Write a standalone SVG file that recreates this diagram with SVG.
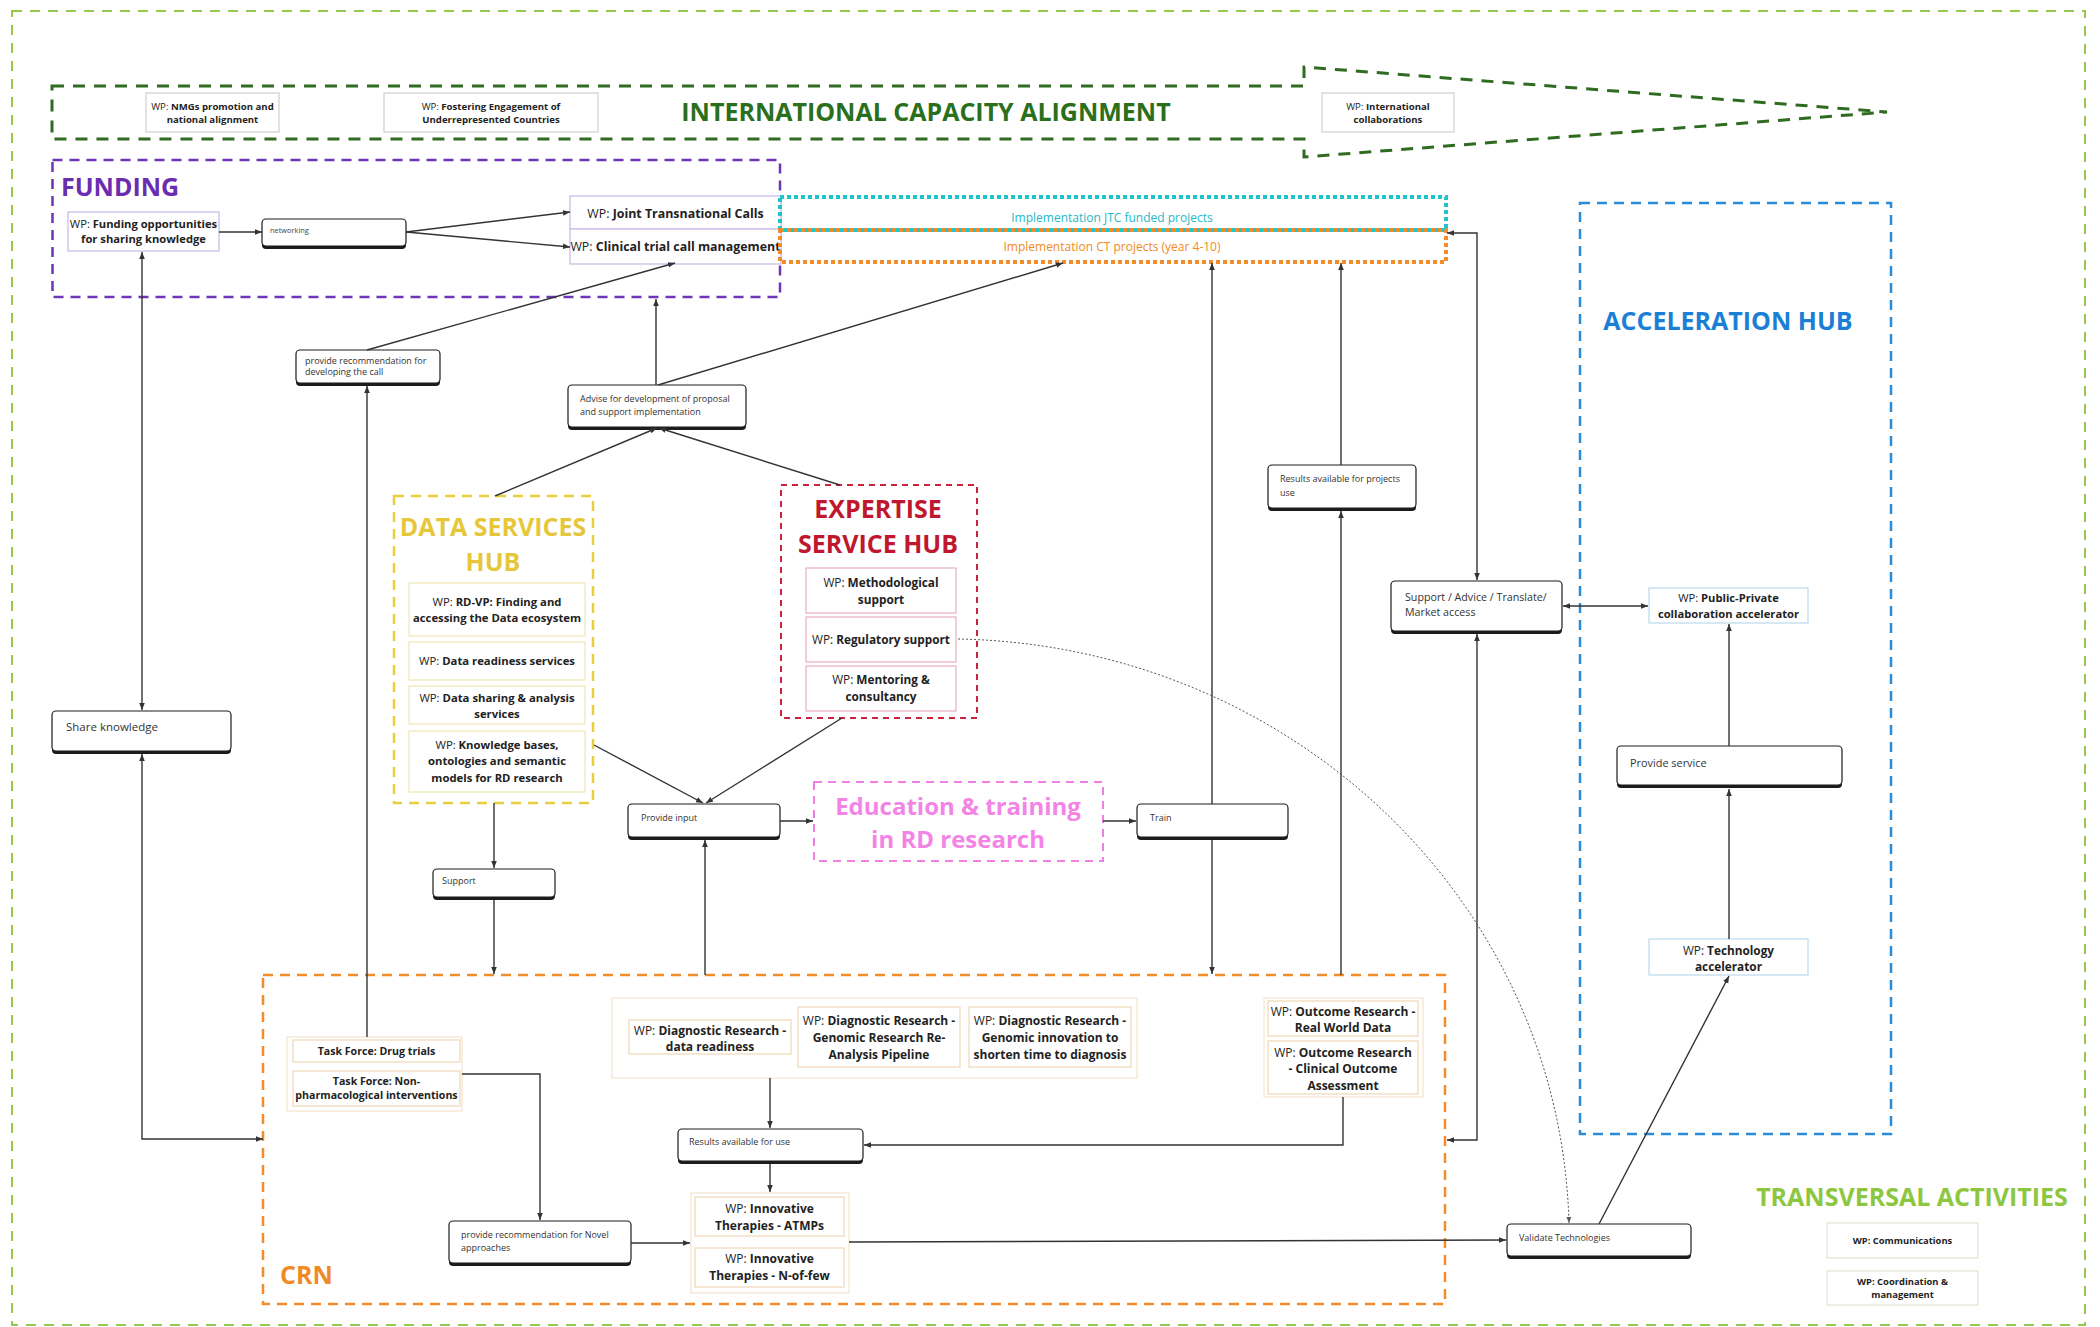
<svg xmlns="http://www.w3.org/2000/svg" width="2100" height="1327" viewBox="0 0 2100 1327">
<style>
  text { font-family: "Open Sans", "Liberation Sans", sans-serif; fill: #222; }
  .b { font-weight: 700; }
  .c { text-anchor: middle; }
  .title { font-weight: 700; font-size: 25px; }
  .sh { fill: #1c1c1c; }
  .ab { fill: #fff; stroke: #1c1c1c; stroke-width: 1.2; }
  .at { font-size: 9px; fill: #333; }
  .wpg { fill: #fff; stroke: #cfcfcf; stroke-width: 1.2; }
  .wpp { fill: #fff; stroke: #c9b8e6; stroke-width: 1.2; }
  .wpy { fill: #fff; stroke: #f1e7b4; stroke-width: 1.2; }
  .wpr { fill: #fff; stroke: #e9aebd; stroke-width: 1.2; }
  .wpo { fill: #fff; stroke: #f1d8b6; stroke-width: 1.2; }
  .wpb { fill: #fff; stroke: #b9d9ec; stroke-width: 1.2; }
  .wpt { fill: #fff; stroke: #dde8d2; stroke-width: 1.2; }
  .con { fill: none; stroke: #f3e4cf; stroke-width: 1.2; }
  .ln { fill: none; stroke: #333; stroke-width: 1.4; }
  .dot { fill: none; stroke: #555; stroke-width: 1; stroke-dasharray: 2 2; }
</style>
<defs>
  <marker id="ah" viewBox="0 0 10 10" refX="10" refY="5" markerWidth="7" markerHeight="7" markerUnits="userSpaceOnUse" orient="auto-start-reverse">
    <path d="M0,1 L10,5 L0,9 z" fill="#333"/>
  </marker>
  <marker id="ahs" viewBox="0 0 10 10" refX="10" refY="5" markerWidth="6" markerHeight="6" markerUnits="userSpaceOnUse" orient="auto">
    <path d="M0,1 L10,5 L0,9 z" fill="#555"/>
  </marker>
</defs>

<rect width="2100" height="1327" fill="#fff"/>

<!-- outer frame -->
<rect x="12" y="11" width="2073" height="1314" fill="none" stroke="#96c84f" stroke-width="2" stroke-dasharray="10 8"/>

<!-- international capacity alignment band -->
<g id="ica">
  <path d="M52,86 H1304 V67 L1887,112 L1304,157 V139 H52 Z" fill="none" stroke="#2f6b20" stroke-width="3" stroke-dasharray="12 9"/>
  <text class="title c" x="926" y="121" style="fill:#2a6f1c">INTERNATIONAL CAPACITY ALIGNMENT</text>
</g>
<g id="wp-nmgs">
  <rect class="wpg" x="146" y="93" width="133" height="39"/>
  <text class="c" x="212.5" y="110" font-size="9.6"><tspan>WP: </tspan><tspan class="b">NMGs promotion and</tspan></text>
  <text class="c b" x="212.5" y="123" font-size="9.6">national alignment</text>
</g>
<g id="wp-fostering">
  <rect class="wpg" x="384" y="93" width="214" height="39"/>
  <text class="c" x="491" y="110" font-size="9.6"><tspan>WP: </tspan><tspan class="b">Fostering Engagement of</tspan></text>
  <text class="c b" x="491" y="123" font-size="9.6">Underrepresented Countries</text>
</g>
<g id="wp-intl">
  <rect class="wpg" x="1322" y="93" width="132" height="39"/>
  <text class="c" x="1388" y="110" font-size="9.6"><tspan>WP: </tspan><tspan class="b">International</tspan></text>
  <text class="c b" x="1388" y="123" font-size="9.6">collaborations</text>
</g>

<!-- funding -->
<g id="funding">
  <rect x="52.5" y="160" width="727.5" height="137" fill="none" stroke="#6f35b8" stroke-width="2.5" stroke-dasharray="10 7"/>
  <text class="title" x="61" y="196" style="fill:#6a2db0">FUNDING</text>
</g>
<g id="wp-funding-opps">
  <rect class="wpp" x="68" y="212" width="151" height="39"/>
  <text class="c" x="143.5" y="228" font-size="11.2"><tspan>WP: </tspan><tspan class="b">Funding opportunities</tspan></text>
  <text class="c b" x="143.5" y="243" font-size="11.2">for sharing knowledge</text>
</g>
<g id="networking">
  <rect class="sh" x="262" y="222" width="144" height="27" rx="4"/>
  <rect class="ab" x="262" y="219" width="144" height="27" rx="4"/>
  <text x="270" y="233" font-size="7.4" style="fill:#444">networking</text>
</g>
<g id="wp-jtc">
  <rect class="wpp" x="570" y="196" width="211" height="33"/>
  <text class="c" x="675.5" y="218" font-size="12.4"><tspan>WP: </tspan><tspan class="b">Joint Transnational Calls</tspan></text>
</g>
<g id="wp-ct">
  <rect class="wpp" x="570" y="229" width="211" height="35"/>
  <text class="c" x="675.5" y="251" font-size="12.4"><tspan>WP: </tspan><tspan class="b">Clinical trial call management</tspan></text>
</g>

<!-- implementation boxes -->
<g id="impl-jtc">
  <rect x="780" y="197" width="666" height="33" fill="none" stroke="#22c4cc" stroke-width="4" stroke-dasharray="4 3"/>
  <text class="c" x="1112" y="222" font-size="12" style="fill:#25b9c9">Implementation JTC funded projects</text>
</g>
<g id="impl-ct">
  <rect x="780" y="230" width="666" height="32" fill="none" stroke="#f28c2a" stroke-width="4" stroke-dasharray="4 3"/>
  <text class="c" x="1112" y="251" font-size="12" style="fill:#ef8a25">Implementation CT projects (year 4-10)</text>
</g>

<!-- action boxes, upper area -->
<g id="rec-call">
  <rect class="sh" x="296" y="353" width="144" height="33" rx="4"/>
  <rect class="ab" x="296" y="350" width="144" height="33" rx="4"/>
  <text class="at" x="305" y="364" font-size="7.6">provide recommendation for</text>
  <text class="at" x="305" y="375" font-size="7.6">developing the call</text>
</g>
<g id="advise">
  <rect class="sh" x="568" y="388" width="178" height="42" rx="4"/>
  <rect class="ab" x="568" y="385" width="178" height="42" rx="4"/>
  <text class="at" x="580" y="402" font-size="9">Advise for development of proposal</text>
  <text class="at" x="580" y="415" font-size="9">and support implementation</text>
</g>
<g id="share-knowledge">
  <rect class="sh" x="52" y="714" width="179" height="40" rx="4"/>
  <rect class="ab" x="52" y="711" width="179" height="40" rx="4"/>
  <text x="66" y="731" font-size="11.5" style="fill:#333">Share knowledge</text>
</g>
<g id="results-projects">
  <rect class="sh" x="1268" y="468" width="148" height="43" rx="4"/>
  <rect class="ab" x="1268" y="465" width="148" height="43" rx="4"/>
  <text class="at" x="1280" y="482" font-size="9.2">Results available for projects</text>
  <text class="at" x="1280" y="496" font-size="9.2">use</text>
</g>
<g id="support-advice">
  <rect class="sh" x="1391" y="584" width="171" height="50" rx="4"/>
  <rect class="ab" x="1391" y="581" width="171" height="50" rx="4"/>
  <text x="1405" y="601" font-size="10.7" style="fill:#333">Support / Advice / Translate/</text>
  <text x="1405" y="616" font-size="10.7" style="fill:#333">Market access</text>
</g>

<!-- data services hub -->
<g id="data-services-hub">
  <rect x="394" y="496" width="199" height="307" fill="none" stroke="#e9cf3e" stroke-width="2.5" stroke-dasharray="10 7"/>
  <text class="title c" x="493" y="536" style="fill:#e7c73a">DATA SERVICES</text>
  <text class="title c" x="493" y="571" style="fill:#e7c73a">HUB</text>
</g>
<g id="wp-rdvp">
  <rect class="wpy" x="409" y="583" width="176" height="53"/>
  <text class="c" x="497" y="606" font-size="11.3"><tspan>WP: </tspan><tspan class="b">RD-VP: Finding and</tspan></text>
  <text class="c b" x="497" y="622" font-size="11.3">accessing the Data ecosystem</text>
</g>
<g id="wp-data-readiness">
  <rect class="wpy" x="409" y="642" width="176" height="38"/>
  <text class="c" x="497" y="665" font-size="11.3"><tspan>WP: </tspan><tspan class="b">Data readiness services</tspan></text>
</g>
<g id="wp-data-sharing">
  <rect class="wpy" x="409" y="686" width="176" height="38"/>
  <text class="c" x="497" y="702" font-size="11.3"><tspan>WP: </tspan><tspan class="b">Data sharing &amp; analysis</tspan></text>
  <text class="c b" x="497" y="718" font-size="11.3">services</text>
</g>
<g id="wp-knowledge-bases">
  <rect class="wpy" x="409" y="731" width="176" height="61"/>
  <text class="c" x="497" y="749" font-size="11.3"><tspan>WP: </tspan><tspan class="b">Knowledge bases,</tspan></text>
  <text class="c b" x="497" y="765" font-size="11.3">ontologies and semantic</text>
  <text class="c b" x="497" y="782" font-size="11.3">models for RD research</text>
</g>

<!-- expertise service hub -->
<g id="expertise-hub">
  <rect x="781" y="485" width="196" height="233" fill="none" stroke="#c8243e" stroke-width="2" stroke-dasharray="6 5"/>
  <text class="title c" x="878" y="518" style="fill:#c0172f">EXPERTISE</text>
  <text class="title c" x="878" y="553" style="fill:#c0172f">SERVICE HUB</text>
</g>
<g id="wp-methodological">
  <rect class="wpr" x="806" y="568" width="150" height="45"/>
  <text class="c" x="881" y="587" font-size="11.8"><tspan>WP: </tspan><tspan class="b">Methodological</tspan></text>
  <text class="c b" x="881" y="604" font-size="11.8">support</text>
</g>
<g id="wp-regulatory">
  <rect class="wpr" x="806" y="617" width="150" height="45"/>
  <text class="c" x="881" y="644" font-size="11.8"><tspan>WP: </tspan><tspan class="b">Regulatory support</tspan></text>
</g>
<g id="wp-mentoring">
  <rect class="wpr" x="806" y="666" width="150" height="45"/>
  <text class="c" x="881" y="684" font-size="11.8"><tspan>WP: </tspan><tspan class="b">Mentoring &amp;</tspan></text>
  <text class="c b" x="881" y="701" font-size="11.8">consultancy</text>
</g>

<!-- middle row -->
<g id="support">
  <rect class="sh" x="433" y="872" width="122" height="28" rx="4"/>
  <rect class="ab" x="433" y="869" width="122" height="28" rx="4"/>
  <text class="at" x="442" y="884" font-size="8">Support</text>
</g>
<g id="provide-input">
  <rect class="sh" x="628" y="807" width="152" height="33" rx="4"/>
  <rect class="ab" x="628" y="804" width="152" height="33" rx="4"/>
  <text class="at" x="641" y="821" font-size="9.6">Provide input</text>
</g>
<g id="education">
  <rect x="814" y="782" width="289" height="79" fill="none" stroke="#f27ee3" stroke-width="2" stroke-dasharray="8 6"/>
  <text class="c b" x="958" y="815" font-size="24" style="fill:#f384e6">Education &amp; training</text>
  <text class="c b" x="958" y="848" font-size="24" style="fill:#f384e6">in RD research</text>
</g>
<g id="train">
  <rect class="sh" x="1137" y="807" width="151" height="33" rx="4"/>
  <rect class="ab" x="1137" y="804" width="151" height="33" rx="4"/>
  <text class="at" x="1150" y="821" font-size="9.2">Train</text>
</g>

<!-- acceleration hub -->
<g id="acceleration-hub">
  <rect x="1580" y="203" width="311" height="931" fill="none" stroke="#2a8bd8" stroke-width="2.5" stroke-dasharray="10 7"/>
  <text class="title c" x="1728" y="330" style="fill:#1b7fd6">ACCELERATION HUB</text>
</g>
<g id="wp-ppp">
  <rect class="wpb" x="1649" y="588" width="159" height="35"/>
  <text class="c" x="1728.5" y="602" font-size="11.2"><tspan>WP: </tspan><tspan class="b">Public-Private</tspan></text>
  <text class="c b" x="1728.5" y="618" font-size="11.2">collaboration accelerator</text>
</g>
<g id="provide-service">
  <rect class="sh" x="1617" y="749" width="225" height="39" rx="4"/>
  <rect class="ab" x="1617" y="746" width="225" height="39" rx="4"/>
  <text x="1630" y="767" font-size="10.9" style="fill:#333">Provide service</text>
</g>
<g id="wp-tech-acc">
  <rect class="wpb" x="1649" y="939" width="159" height="36"/>
  <text class="c" x="1728.5" y="955" font-size="11.8"><tspan>WP: </tspan><tspan class="b">Technology</tspan></text>
  <text class="c b" x="1728.5" y="971" font-size="11.8">accelerator</text>
</g>

<!-- clinical research network -->
<g id="crn">
  <rect x="263" y="975" width="1182" height="329" fill="none" stroke="#f28c2a" stroke-width="2.5" stroke-dasharray="10 7"/>
  <text class="title" x="280" y="1284" style="fill:#ef8a25">CRN</text>
</g>
<g id="task-forces">
  <rect class="con" x="287" y="1037" width="175" height="74"/>
  <rect class="wpo" x="293" y="1040" width="167" height="22"/>
  <text class="c b" x="376.5" y="1055" font-size="10.6">Task Force: Drug trials</text>
  <rect class="wpo" x="293" y="1071" width="167" height="35"/>
  <text class="c b" x="376.5" y="1085" font-size="10.6">Task Force: Non-</text>
  <text class="c b" x="376.5" y="1099" font-size="10.6">pharmacological interventions</text>
</g>
<g id="diagnostic">
  <rect class="con" x="612" y="998" width="525" height="80"/>
</g>
<g id="wp-diag-data">
  <rect class="wpo" x="629" y="1020" width="162" height="34"/>
  <text class="c" x="710" y="1035" font-size="12"><tspan>WP: </tspan><tspan class="b">Diagnostic Research -</tspan></text>
  <text class="c b" x="710" y="1051" font-size="12">data readiness</text>
</g>
<g id="wp-diag-genomic">
  <rect class="wpo" x="798" y="1007" width="162" height="60"/>
  <text class="c" x="879" y="1025" font-size="12"><tspan>WP: </tspan><tspan class="b">Diagnostic Research -</tspan></text>
  <text class="c b" x="879" y="1042" font-size="12">Genomic Research Re-</text>
  <text class="c b" x="879" y="1059" font-size="12">Analysis Pipeline</text>
</g>
<g id="wp-diag-innovation">
  <rect class="wpo" x="969" y="1007" width="162" height="60"/>
  <text class="c" x="1050" y="1025" font-size="12"><tspan>WP: </tspan><tspan class="b">Diagnostic Research -</tspan></text>
  <text class="c b" x="1050" y="1042" font-size="12">Genomic innovation to</text>
  <text class="c b" x="1050" y="1059" font-size="12">shorten time to diagnosis</text>
</g>
<g id="outcome">
  <rect class="con" x="1264" y="998" width="159" height="99"/>
  <rect class="wpo" x="1268" y="1001" width="150" height="35"/>
  <text class="c" x="1343" y="1016" font-size="12"><tspan>WP: </tspan><tspan class="b">Outcome Research -</tspan></text>
  <text class="c b" x="1343" y="1032" font-size="12">Real World Data</text>
  <rect class="wpo" x="1268" y="1041" width="150" height="53"/>
  <text class="c" x="1343" y="1057" font-size="12"><tspan>WP: </tspan><tspan class="b">Outcome Research</tspan></text>
  <text class="c b" x="1343" y="1073" font-size="12">- Clinical Outcome</text>
  <text class="c b" x="1343" y="1090" font-size="12">Assessment</text>
</g>
<g id="results-use">
  <rect class="sh" x="678" y="1132" width="185" height="32" rx="4"/>
  <rect class="ab" x="678" y="1129" width="185" height="32" rx="4"/>
  <text class="at" x="689" y="1145" font-size="8.8">Results available for use</text>
</g>
<g id="rec-novel">
  <rect class="sh" x="449" y="1224" width="182" height="42" rx="4"/>
  <rect class="ab" x="449" y="1221" width="182" height="42" rx="4"/>
  <text class="at" x="461" y="1238" font-size="9.1">provide recommendation for Novel</text>
  <text class="at" x="461" y="1251" font-size="9.1">approaches</text>
</g>
<g id="innovative">
  <rect class="con" x="691" y="1193" width="158" height="100"/>
  <rect class="wpo" x="695" y="1197" width="149" height="39"/>
  <text class="c" x="769.5" y="1213" font-size="12"><tspan>WP: </tspan><tspan class="b">Innovative</tspan></text>
  <text class="c b" x="769.5" y="1230" font-size="12">Therapies - ATMPs</text>
  <rect class="wpo" x="695" y="1248" width="149" height="39"/>
  <text class="c" x="769.5" y="1263" font-size="12"><tspan>WP: </tspan><tspan class="b">Innovative</tspan></text>
  <text class="c b" x="769.5" y="1280" font-size="12">Therapies - N-of-few</text>
</g>
<g id="validate">
  <rect class="sh" x="1507" y="1227" width="184" height="32" rx="4"/>
  <rect class="ab" x="1507" y="1224" width="184" height="32" rx="4"/>
  <text class="at" x="1519" y="1241" font-size="9.3">Validate Technologies</text>
</g>

<!-- transversal activities -->
<g id="transversal">
  <text class="title c" x="1912" y="1206" style="fill:#8dc63f">TRANSVERSAL ACTIVITIES</text>
</g>
<g id="wp-communications">
  <rect class="wpt" x="1827" y="1223" width="151" height="35"/>
  <text class="c b" x="1902.5" y="1244" font-size="9.4">WP: Communications</text>
</g>
<g id="wp-coordination">
  <rect class="wpt" x="1827" y="1271" width="151" height="34"/>
  <text class="c b" x="1902.5" y="1285" font-size="9.4">WP: Coordination &amp;</text>
  <text class="c b" x="1902.5" y="1298" font-size="9.4">management</text>
</g>

<!-- connectors -->
<g id="connectors">
  <path class="ln" d="M219,232 H262" marker-end="url(#ah)"/>
  <path class="ln" d="M406,232 L570,212" marker-end="url(#ah)"/>
  <path class="ln" d="M406,232 L570,247" marker-end="url(#ah)"/>
  <path class="ln" d="M142,252 V710" marker-start="url(#ah)" marker-end="url(#ah)"/>
  <path class="ln" d="M142,754 V1139 H263" marker-start="url(#ah)" marker-end="url(#ah)"/>
  <path class="ln" d="M367,350 L675,263" marker-end="url(#ah)"/>
  <path class="ln" d="M367,1037 V386" marker-end="url(#ah)"/>
  <path class="ln" d="M656,385 V299" marker-end="url(#ah)"/>
  <path class="ln" d="M658,385 L1063,263" marker-end="url(#ah)"/>
  <path class="ln" d="M495,496 L657,428" marker-end="url(#ah)"/>
  <path class="ln" d="M840,485 L659,428" marker-end="url(#ah)"/>
  <path class="ln" d="M494,803 V868" marker-end="url(#ah)"/>
  <path class="ln" d="M494,900 V974" marker-end="url(#ah)"/>
  <path class="ln" d="M594,745 L703,803" marker-end="url(#ah)"/>
  <path class="ln" d="M842,718 L706,803" marker-end="url(#ah)"/>
  <path class="ln" d="M705,975 V840" marker-end="url(#ah)"/>
  <path class="ln" d="M780,821 H813" marker-end="url(#ah)"/>
  <path class="ln" d="M1103,821 H1136" marker-end="url(#ah)"/>
  <path class="ln" d="M1212,804 V263" marker-end="url(#ah)"/>
  <path class="ln" d="M1212,840 V974" marker-end="url(#ah)"/>
  <path class="ln" d="M1341,975 V511" marker-end="url(#ah)"/>
  <path class="ln" d="M1341,465 V263" marker-end="url(#ah)"/>
  <path class="ln" d="M1447,233 H1477 V580" marker-start="url(#ah)" marker-end="url(#ah)"/>
  <path class="ln" d="M1477,634 V1140 H1447" marker-start="url(#ah)" marker-end="url(#ah)"/>
  <path class="ln" d="M1563,606 H1648" marker-start="url(#ah)" marker-end="url(#ah)"/>
  <path class="ln" d="M1729,746 V624" marker-end="url(#ah)"/>
  <path class="ln" d="M1729,939 V789" marker-end="url(#ah)"/>
  <path class="ln" d="M1599,1224 L1729,976" marker-end="url(#ah)"/>
  <path class="dot" d="M958,639 C1290,645 1560,900 1569,1223" marker-end="url(#ahs)"/>
  <path class="ln" d="M462,1074 H540 V1220" marker-end="url(#ah)"/>
  <path class="ln" d="M631,1243 H690" marker-end="url(#ah)"/>
  <path class="ln" d="M770,1078 V1128" marker-end="url(#ah)"/>
  <path class="ln" d="M770,1164 V1192" marker-end="url(#ah)"/>
  <path class="ln" d="M1343,1097 V1145 H864" marker-end="url(#ah)"/>
  <path class="ln" d="M849,1242 L1506,1240" marker-end="url(#ah)"/>
</g>
</svg>
